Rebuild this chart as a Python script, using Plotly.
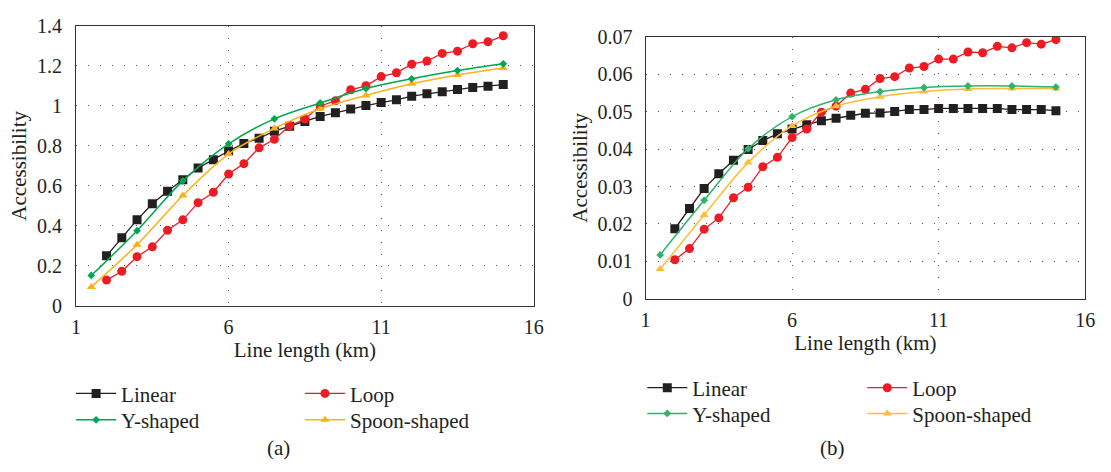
import plotly.graph_objects as go

# ---------------- data ----------------
x_dense = [2, 2.5, 3, 3.5, 4, 4.5, 5, 5.5, 6, 6.5, 7, 7.5, 8, 8.5, 9, 9.5,
           10, 10.5, 11, 11.5, 12, 12.5, 13, 13.5, 14, 14.5, 15]
x_sparse = [1.5, 3, 4.5, 6, 7.5, 9, 10.5, 12, 13.5, 15]

# panel (a)
a_linear = [0.25, 0.34, 0.43, 0.51, 0.573, 0.63, 0.689, 0.731, 0.774, 0.812, 0.838,
            0.873, 0.898, 0.922, 0.947, 0.965, 0.984, 1.001, 1.016, 1.03, 1.048,
            1.06, 1.07, 1.081, 1.092, 1.098, 1.106]
a_loop = [0.129, 0.173, 0.246, 0.295, 0.378, 0.43, 0.516, 0.568, 0.659, 0.711, 0.79,
          0.833, 0.9, 0.934, 0.999, 1.025, 1.08, 1.1, 1.146, 1.165, 1.208, 1.224,
          1.262, 1.273, 1.31, 1.32, 1.35]
a_y = [0.152, 0.376, 0.625, 0.81, 0.935, 1.014, 1.086, 1.135, 1.176, 1.21]
a_spoon = [0.095, 0.306, 0.552, 0.759, 0.887, 0.985, 1.052, 1.11, 1.154, 1.189]

# panel (b)
b_linear = [0.0187, 0.0241, 0.0295, 0.0334, 0.0370, 0.0399, 0.0423, 0.0441, 0.0454,
            0.0465, 0.0476, 0.0483, 0.0491, 0.0496, 0.0497, 0.0501, 0.0506, 0.0506,
            0.0509, 0.0509, 0.0509, 0.0509, 0.0509, 0.0506, 0.0506, 0.0506, 0.0503]
b_loop = [0.0104, 0.0134, 0.0186, 0.0216, 0.0270, 0.0298, 0.0353, 0.0378, 0.0431,
          0.0454, 0.0499, 0.0515, 0.0550, 0.0560, 0.0589, 0.0594, 0.0617, 0.0621,
          0.0641, 0.0641, 0.0660, 0.0658, 0.0675, 0.0671, 0.0685, 0.0681, 0.0693]
b_y = [0.0117, 0.0263, 0.0401, 0.0487, 0.0532, 0.0554, 0.0565, 0.0569, 0.0569, 0.0566]
b_spoon = [0.0079, 0.0224, 0.0364, 0.0462, 0.0515, 0.0540, 0.0554, 0.0561, 0.0562, 0.0562]

series_names = ["Linear", "Loop", "Y-shaped", "Spoon-shaped"]

x_ticks = [1, 6, 11, 16]
a_yticks = [0, 0.2, 0.4, 0.6, 0.8, 1, 1.2, 1.4]
a_yticktext = ["0", "0.2", "0.4", "0.6", "0.8", "1", "1.2", "1.4"]
b_yticks = [0, 0.01, 0.02, 0.03, 0.04, 0.05, 0.06, 0.07]
b_yticktext = ["0", "0.01", "0.02", "0.03", "0.04", "0.05", "0.06", "0.07"]

x_title = "Line length (km)"
y_title = "Accessibility"
captions = ["(a)", "(b)"]

# ---------------- styling ----------------
W, H = 1111, 472
FONT = "Liberation Serif"
TXT = "#231f20"
BLACK = "#231f20"
RED = "#ed1c24"
GREEN_A, GREEN_B = "#00a651", "#2fb36a"
ORANGE_A, ORANGE_B = "#fbb117", "#fbbd3a"


def px_x(p):
    return p / W


def px_y(p):
    return 1 - p / H


fig = go.Figure()


def add_panel(xa, ya, lin, loop, ysh, spoon, green, orange, legs):
    fig.add_trace(go.Scatter(x=x_dense, y=lin, name=series_names[0], mode="lines+markers",
                             line=dict(color=BLACK, width=1.3),
                             marker=dict(symbol="square", size=9, color=BLACK),
                             xaxis=xa, yaxis=ya, legend=legs[0], showlegend=True))
    fig.add_trace(go.Scatter(x=x_dense, y=loop, name=series_names[1], mode="lines+markers",
                             line=dict(color=RED, width=1.3),
                             marker=dict(symbol="circle", size=9, color=RED),
                             xaxis=xa, yaxis=ya, legend=legs[1], showlegend=True))
    fig.add_trace(go.Scatter(x=x_sparse, y=spoon, name=series_names[3], mode="lines+markers",
                             line=dict(color=orange, width=1.5, shape="spline"),
                             marker=dict(symbol="triangle-up", size=8, color=orange),
                             xaxis=xa, yaxis=ya, legend=legs[3], showlegend=True))
    fig.add_trace(go.Scatter(x=x_sparse, y=ysh, name=series_names[2], mode="lines+markers",
                             line=dict(color=green, width=1.5, shape="spline"),
                             marker=dict(symbol="diamond", size=6, color=green),
                             xaxis=xa, yaxis=ya, legend=legs[2], showlegend=True))


add_panel("x", "y", a_linear, a_loop, a_y, a_spoon, GREEN_A, ORANGE_A,
          ["legend", "legend2", "legend3", "legend4"])
add_panel("x2", "y2", b_linear, b_loop, b_y, b_spoon, GREEN_B, ORANGE_B,
          ["legend5", "legend6", "legend7", "legend8"])

axis_common = dict(
    showline=True, linecolor="#333333", linewidth=1.3, mirror=True,
    showgrid=True, gridcolor="#555555", gridwidth=1, griddash="1px,11px",
    zeroline=False, ticks="",
    tickfont=dict(family=FONT, size=20, color=TXT),
    title_font=dict(family=FONT, size=21, color=TXT),
)

fig.update_layout(
    width=W, height=H,
    showlegend=True,
    margin=dict(l=0, r=0, t=0, b=0),
    paper_bgcolor="white", plot_bgcolor="white",
    font=dict(family=FONT, size=20, color=TXT),
    xaxis=dict(domain=[px_x(72), px_x(536)], range=[1, 16], tickvals=x_ticks,
               ticklabelstandoff=3, title=dict(text=x_title, standoff=3), anchor="y",
               **axis_common),
    yaxis=dict(domain=[px_y(309.3), px_y(15.5)], range=[0, 1.4], tickvals=a_yticks,
               ticktext=a_yticktext, ticklabelstandoff=9,
               title=dict(text=y_title, standoff=4), anchor="x", **axis_common),
    xaxis2=dict(domain=[px_x(649.3), px_x(1095)], range=[1, 16], tickvals=x_ticks,
                ticklabelstandoff=3, title=dict(text=x_title, standoff=3), anchor="y2",
                **axis_common),
    yaxis2=dict(domain=[px_y(301.7), px_y(27.3)], range=[0, 0.07], tickvals=b_yticks,
                ticktext=b_yticktext, ticklabelstandoff=8,
                title=dict(text=y_title, standoff=4), anchor="x2", **axis_common),
)

leg_common = dict(orientation="v", xanchor="left", yanchor="top", itemwidth=40,
                  bgcolor="rgba(0,0,0,0)", font=dict(family=FONT, size=21, color=TXT))
# (left x of entry, row centre y) in pixels
leg_pos = {
    "legend": (67, 395), "legend2": (299, 395), "legend3": (67, 422.7), "legend4": (299, 422.7),
    "legend5": (646, 389), "legend6": (869, 389), "legend7": (646, 416), "legend8": (869, 416),
}
fig.update_layout(**{k: dict(x=px_x(v[0]), y=px_y(v[1] - 15), **leg_common)
                     for k, v in leg_pos.items()})

fig.add_annotation(x=px_x(277), y=px_y(458), xref="paper", yref="paper", text=captions[0],
                   xanchor="center", yanchor="middle", showarrow=False,
                   font=dict(family=FONT, size=21, color=TXT))
fig.add_annotation(x=px_x(839), y=px_y(458), xref="paper", yref="paper", text=captions[1],
                   xanchor="center", yanchor="middle", showarrow=False,
                   font=dict(family=FONT, size=21, color=TXT))

fig.write_html("out.html")
